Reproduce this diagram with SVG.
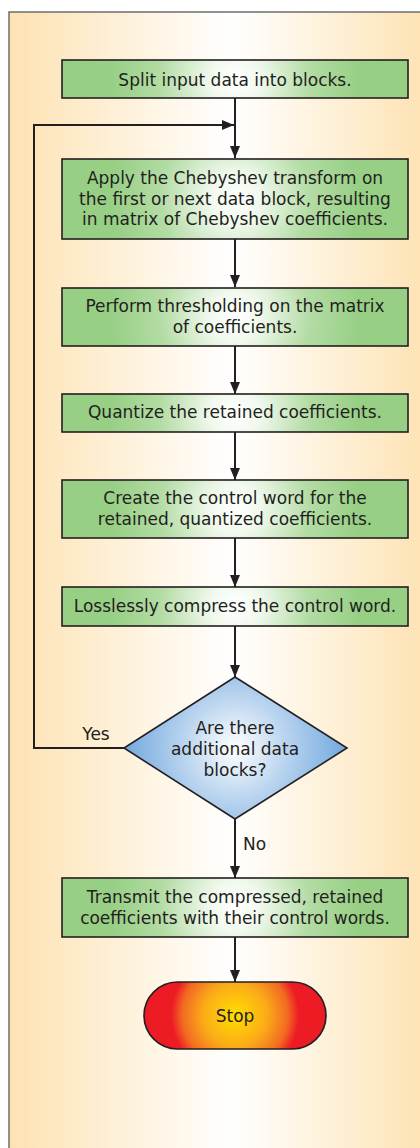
<svg xmlns="http://www.w3.org/2000/svg" xmlns:xlink="http://www.w3.org/1999/xlink" width="420" height="1148" viewBox="0 0 420 1148">
<defs>
<linearGradient id="bg" x1="0" y1="0" x2="1" y2="0">
<stop offset="0" stop-color="#fde2b2"/>
<stop offset="0.53" stop-color="#ffffff"/>
<stop offset="1" stop-color="#fde2b2"/>
</linearGradient>
<radialGradient id="gr" gradientUnits="userSpaceOnUse" cx="235" cy="79" r="125">
<stop offset="0" stop-color="#ffffff"/>
<stop offset="0.2" stop-color="#f1f9ee"/>
<stop offset="0.6" stop-color="#b3dca4"/>
<stop offset="1" stop-color="#97cf85"/>
</radialGradient>
<radialGradient id="g1" href="#gr" xlink:href="#gr" cy="79"/>
<radialGradient id="g2" href="#gr" xlink:href="#gr" cy="199"/>
<radialGradient id="g3" href="#gr" xlink:href="#gr" cy="317"/>
<radialGradient id="g4" href="#gr" xlink:href="#gr" cy="413"/>
<radialGradient id="g5" href="#gr" xlink:href="#gr" cy="509"/>
<radialGradient id="g6" href="#gr" xlink:href="#gr" cy="606"/>
<radialGradient id="g8" href="#gr" xlink:href="#gr" cy="907"/>
<radialGradient id="bl" gradientUnits="userSpaceOnUse" cx="235" cy="748" r="115">
<stop offset="0" stop-color="#ffffff"/>
<stop offset="0.45" stop-color="#b9d4ef"/>
<stop offset="1" stop-color="#6ea6dc"/>
</radialGradient>
<radialGradient id="st" gradientUnits="userSpaceOnUse" cx="235" cy="1015" r="91">
<stop offset="0" stop-color="#ffde00"/>
<stop offset="0.35" stop-color="#fbab18"/>
<stop offset="0.58" stop-color="#f26a22"/>
<stop offset="0.7" stop-color="#ed1c24"/>
<stop offset="1" stop-color="#ed1c24"/>
</radialGradient>
<marker id="ah" viewBox="0 0 12 10" refX="12" refY="5" markerWidth="12" markerHeight="10" markerUnits="userSpaceOnUse" orient="auto">
<path d="M0,0 L12,5 L0,10 z" fill="#231f20"/>
</marker>
<style>
.box{stroke:#231f20;stroke-width:1.6}
.t{font-family:"DejaVu Sans","Liberation Sans",sans-serif;font-size:17px;fill:#231f20;text-anchor:middle}
.c{stroke:#231f20;stroke-width:2;fill:none}
</style>
</defs>
<rect x="0" y="0" width="420" height="1148" fill="#ffffff"/>
<rect x="9" y="12" width="420" height="1148" fill="url(#bg)" stroke="#6d6e70" stroke-width="1.5"/>
<g id="connectors">
<line class="c" x1="235" y1="98" x2="235" y2="158" marker-end="url(#ah)"/>
<polyline class="c" points="124,748 34,748 34,125 234,125" marker-end="url(#ah)"/>
<line class="c" x1="235" y1="239" x2="235" y2="287" marker-end="url(#ah)"/>
<line class="c" x1="235" y1="346" x2="235" y2="394" marker-end="url(#ah)"/>
<line class="c" x1="235" y1="432" x2="235" y2="480" marker-end="url(#ah)"/>
<line class="c" x1="235" y1="538" x2="235" y2="587" marker-end="url(#ah)"/>
<line class="c" x1="235" y1="626" x2="235" y2="677" marker-end="url(#ah)"/>
<line class="c" x1="235" y1="819" x2="235" y2="878" marker-end="url(#ah)"/>
<line class="c" x1="235" y1="937" x2="235" y2="982" marker-end="url(#ah)"/>
<text class="t" x="96" y="740">Yes</text>
<text class="t" x="243" y="850" style="text-anchor:start">No</text>
</g>
<g id="n1">
<rect class="box" fill="url(#g1)" x="62" y="60" width="346" height="38"/>
<text class="t" x="235" y="86">Split input data into blocks.</text>
</g>
<g id="n2">
<rect class="box" fill="url(#g2)" x="62" y="159" width="346" height="80"/>
<text class="t" x="235" y="184">Apply the Chebyshev transform on<tspan x="235" dy="20.5">the first or next data block, resulting</tspan><tspan x="235" dy="20.5">in matrix of Chebyshev coefficients.</tspan></text>
</g>
<g id="n3">
<rect class="box" fill="url(#g3)" x="62" y="288" width="346" height="58"/>
<text class="t" x="235" y="312">Perform thresholding on the matrix<tspan x="235" dy="20.5">of coefficients.</tspan></text>
</g>
<g id="n4">
<rect class="box" fill="url(#g4)" x="62" y="394" width="346" height="38"/>
<text class="t" x="235" y="418">Quantize the retained coefficients.</text>
</g>
<g id="n5">
<rect class="box" fill="url(#g5)" x="62" y="480" width="346" height="58"/>
<text class="t" x="235" y="504">Create the control word for the<tspan x="235" dy="21">retained, quantized coefficients.</tspan></text>
</g>
<g id="n6">
<rect class="box" fill="url(#g6)" x="62" y="587" width="346" height="39"/>
<text class="t" x="235" y="612">Losslessly compress the control word.</text>
</g>
<g id="n7">
<polygon points="235,677 347,748 235,819 124,748" fill="url(#bl)" stroke="#231f20" stroke-width="1.6"/>
<text class="t" x="235" y="734">Are there<tspan x="235" dy="21">additional data</tspan><tspan x="235" dy="20.5">blocks?</tspan></text>
</g>
<g id="n8">
<rect class="box" fill="url(#g8)" x="62" y="878" width="346" height="59"/>
<text class="t" x="235" y="903">Transmit the compressed, retained<tspan x="235" dy="20.5">coefficients with their control words.</tspan></text>
</g>
<g id="n9">
<rect x="144" y="982" width="182" height="67" rx="33.5" ry="33.5" fill="url(#st)" stroke="#231f20" stroke-width="1.6"/>
<text class="t" x="235" y="1022">Stop</text>
</g>
</svg>
